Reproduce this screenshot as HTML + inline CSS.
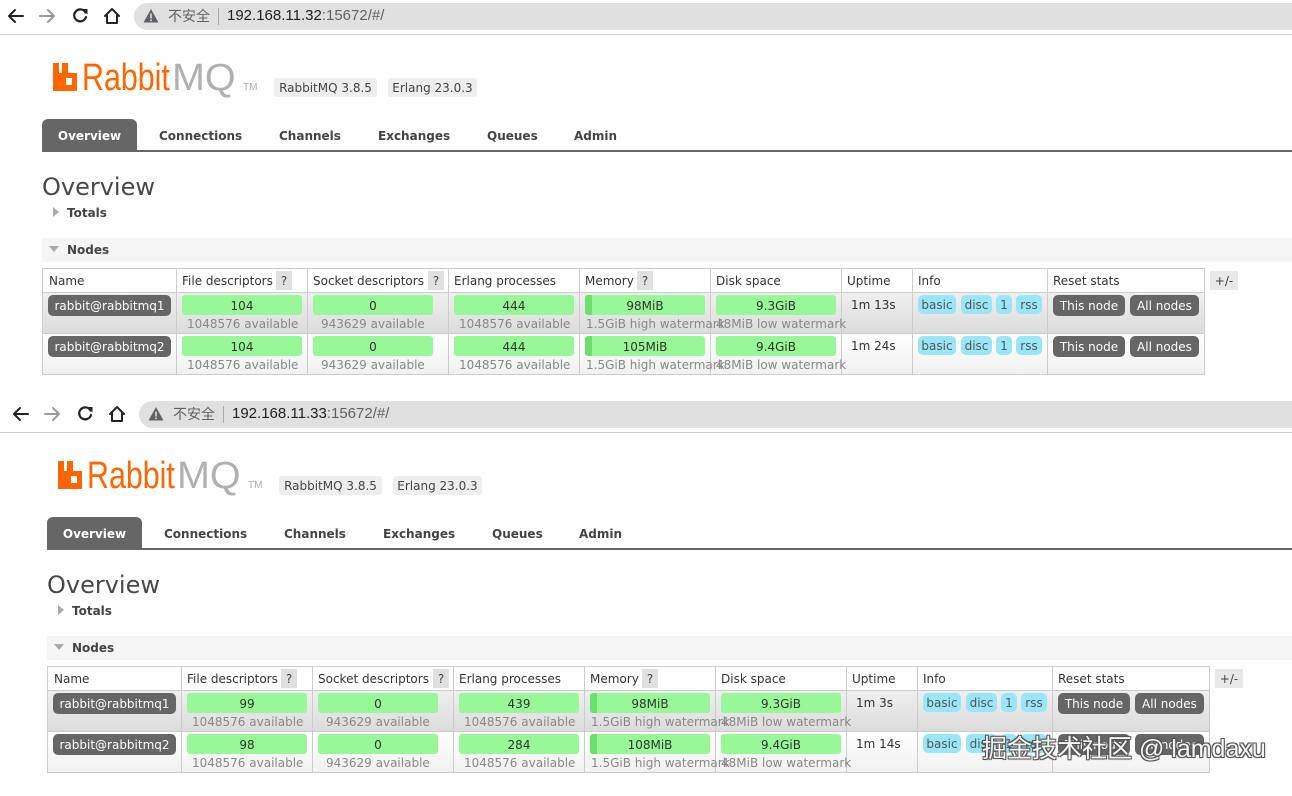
<!DOCTYPE html>
<html><head><meta charset="utf-8">
<style>
html,body{margin:0;padding:0;background:#fff;}
body{width:1292px;height:787px;overflow:hidden;position:relative;font-family:"DejaVu Sans",Verdana,sans-serif;font-size:12px;color:#333;}
.p{position:absolute;width:1292px;height:398px;overflow:visible;}
.a{position:absolute;white-space:nowrap;}
.url{position:absolute;left:134px;top:3px;width:1200px;height:27px;background:#e0e0e0;border-radius:14px;}
.hl{position:absolute;left:-5px;top:34px;width:1310px;height:1px;background:#cfcfcf;}
.cn{position:absolute;left:168px;top:6px;font-family:"Noto Sans CJK SC","WenQuanYi Zen Hei",sans-serif;font-size:14px;line-height:20px;color:#5f6368;}
.sep{position:absolute;left:218px;top:8px;width:1px;height:17px;background:#a8a8a8;}
.ad{position:absolute;left:227px;top:6px;font-family:"Liberation Sans",Arial,sans-serif;font-size:15px;line-height:20px;color:#202124;}
.ad span{color:#5f6368;}
.rb{position:absolute;left:82px;top:56px;font-family:"Liberation Sans",Arial,sans-serif;font-size:38px;line-height:44px;color:#f60;transform:scaleX(0.8);transform-origin:0 0;}
.mq{position:absolute;left:172px;top:56px;font-family:"Liberation Sans",Arial,sans-serif;font-size:38px;line-height:44px;color:#b0b0b0;transform:scaleX(1.04);transform-origin:0 0;}
.tm{position:absolute;left:243px;top:83px;font-family:"Liberation Sans",Arial,sans-serif;font-size:10px;line-height:10px;color:#aaa;}
.ver{position:absolute;top:78px;height:19px;line-height:20px;background:#eee;border-radius:3px;text-align:center;color:#444;}
.tab{position:absolute;left:42px;top:119px;width:95px;height:32px;line-height:34px;background:#666;border-radius:6px 6px 0 0;color:#fff;font-weight:bold;text-align:center;}
.tl{position:absolute;top:119px;line-height:34px;font-weight:bold;color:#444;}
.tline{position:absolute;left:42px;top:150px;width:1300px;height:2px;background:#666;}
.h1{position:absolute;left:42px;top:175px;font-size:24px;line-height:24px;color:#484848;}
.bold{font-weight:bold;color:#444;}
.band{position:absolute;left:42px;top:238px;width:1300px;height:24px;background:#f5f5f5;}
.tbl{position:absolute;left:42px;top:268px;width:1163px;height:107px;border:1px solid #ccc;box-sizing:border-box;}
.r1{position:absolute;left:43px;top:293px;width:1161px;height:40px;background:linear-gradient(#efefef,#dcdcdc);}
.r2{position:absolute;left:43px;top:334px;width:1161px;height:40px;background:linear-gradient(#fff,#f1f1f1);}
.hz{position:absolute;left:42px;width:1163px;height:1px;background:#ccc;}
.vl{position:absolute;top:268px;width:1px;height:106px;background:#ccc;}
.th{position:absolute;top:270px;line-height:23px;color:#333;}
.q{position:absolute;top:271px;width:16px;height:19px;line-height:21px;background:#e0e0e0;text-align:center;color:#444;}
.pill{position:absolute;left:48px;width:123px;height:21px;line-height:23px;background:#666;border-radius:5px;color:#fff;text-align:center;}
.bar{position:absolute;width:120px;height:20px;line-height:22px;background:#98f898;border-radius:3px;text-align:center;color:#333;overflow:hidden;}
.bar i{position:absolute;left:0;top:0;width:7px;height:20px;background:#6be06b;}
.bar b{position:relative;font-weight:normal;}
.sub{position:absolute;height:17px;line-height:19px;color:#888;}
.up{position:absolute;left:851px;line-height:21px;color:#333;}
.inf{position:absolute;height:19px;line-height:21px;background:#99e6f8;border-radius:5px;text-align:center;color:#555;}
.btn{position:absolute;height:21px;line-height:23px;background:#666;border-radius:5px;text-align:center;color:#fff;}
.pm{position:absolute;left:1210px;top:271px;width:28px;height:19px;line-height:21px;background:#e8e8e8;text-align:center;color:#444;}
.wm{position:absolute;left:982px;top:732px;font-family:"Liberation Sans","Noto Sans CJK SC",sans-serif;font-size:25px;line-height:34px;color:#f4f4f4;text-shadow:1px 1px 0 #555,-1px -1px 0 #555,1px -1px 0 #555,-1px 1px 0 #555,0 0 2px #333;white-space:nowrap;}
</style></head><body>

<!-- PANEL 1 -->
<div class="p" style="left:0;top:0;">
  <div class="url"></div>
  <div class="hl"></div>
  <svg class="a" style="left:0;top:0" width="135" height="32">
    <g fill="none" stroke-width="2" stroke-linecap="round" stroke-linejoin="round">
      <path d="M9 16 H23 M15 10 L9 16 L15 22" stroke="#222"/>
      <path d="M40 16 H54 M48 10 L54 16 L48 22" stroke="#9a9a9a"/>
      <path d="M85.5 12.5 A6 6 0 1 0 86 17" stroke="#222" stroke-width="2.2"/>
      <path d="M105 16 L112 9 L119 16 M107 15 V23 H117 V15" stroke="#222"/>
    </g>
    <path d="M82 9 L87.5 9 L87.5 14.5 Z" fill="#222"/>
  </svg>
  <svg class="a" style="left:143px;top:8px" width="16" height="16"><path d="M8 1 L15.5 14.5 H0.5 Z" fill="#5f6368"/><rect x="7.2" y="5.5" width="1.6" height="5" fill="#e0e0e0"/><rect x="7.2" y="11.5" width="1.6" height="1.6" fill="#e0e0e0"/></svg>
  <div class="cn">不安全</div>
  <div class="sep"></div>
  <div class="ad">192.168.11.32<span>:15672/#/</span></div>

  <svg class="a" style="left:53px;top:63px" width="25" height="28"><path d="M0 0 H6 V10 H9 V0 H15 V10 H24 V28 H0 Z M13 15 V22 H19 V15 Z" fill="#f60" fill-rule="evenodd"/></svg>
  <div class="rb">Rabbit</div>
  <div class="mq">MQ</div>
  <div class="tm">TM</div>
  <div class="ver" style="left:274px;width:103px;">RabbitMQ 3.8.5</div>
  <div class="ver" style="left:388px;width:89px;">Erlang 23.0.3</div>

  <div class="tab">Overview</div>
  <div class="tl" style="left:159px">Connections</div>
  <div class="tl" style="left:279px">Channels</div>
  <div class="tl" style="left:378px">Exchanges</div>
  <div class="tl" style="left:487px">Queues</div>
  <div class="tl" style="left:574px">Admin</div>
  <div class="tline"></div>

  <div class="h1">Overview</div>
  <svg class="a" style="left:52px;top:206px" width="8" height="12"><path d="M1 1 L7 6 L1 11 Z" fill="#aaa"/></svg>
  <div class="a bold" style="left:67px;top:205px;line-height:17px;">Totals</div>
  <div class="band"></div>
  <svg class="a" style="left:48px;top:245px" width="12" height="8"><path d="M1 1 H11 L6 7 Z" fill="#aaa"/></svg>
  <div class="a bold" style="left:67px;top:242px;line-height:17px;">Nodes</div>

  <div class="r1"></div><div class="r2"></div>
  <div class="tbl"></div>
  <div class="hz" style="top:292px"></div>
  <div class="hz" style="top:333px"></div>
  <div class="vl" style="left:176px"></div><div class="vl" style="left:307px"></div><div class="vl" style="left:448px"></div><div class="vl" style="left:579px"></div><div class="vl" style="left:710px"></div><div class="vl" style="left:841px"></div><div class="vl" style="left:912px"></div><div class="vl" style="left:1047px"></div>

  <div class="th" style="left:49px">Name</div>
  <div class="th" style="left:182px">File descriptors</div><div class="q" style="left:276px">?</div>
  <div class="th" style="left:313px">Socket descriptors</div><div class="q" style="left:428px">?</div>
  <div class="th" style="left:454px">Erlang processes</div>
  <div class="th" style="left:585px">Memory</div><div class="q" style="left:637px">?</div>
  <div class="th" style="left:716px">Disk space</div>
  <div class="th" style="left:847px">Uptime</div>
  <div class="th" style="left:918px">Info</div>
  <div class="th" style="left:1053px">Reset stats</div>
  <div class="pm">+/-</div>

  <!-- row 1 -->
  <div class="pill" style="top:295px">rabbit@rabbitmq1</div>
  <div class="bar" style="left:182px;top:295px">104</div>
  <div class="sub" style="left:187px;top:315px">1048576 available</div>
  <div class="bar" style="left:313px;top:295px">0</div>
  <div class="sub" style="left:321px;top:315px">943629 available</div>
  <div class="bar" style="left:454px;top:295px">444</div>
  <div class="sub" style="left:459px;top:315px">1048576 available</div>
  <div class="bar" style="left:585px;top:295px"><i></i><b>98MiB</b></div>
  <div class="sub" style="left:586px;top:315px">1.5GiB high watermark</div>
  <div class="bar" style="left:716px;top:295px">9.3GiB</div>
  <div class="sub" style="left:716px;top:315px">48MiB low watermark</div>
  <div class="up" style="top:295px">1m 13s</div>
  <div class="inf" style="left:918px;top:295px;width:38px">basic</div>
  <div class="inf" style="left:961px;top:295px;width:31px">disc</div>
  <div class="inf" style="left:996px;top:295px;width:16px">1</div>
  <div class="inf" style="left:1016px;top:295px;width:26px">rss</div>
  <div class="btn" style="left:1053px;top:295px;width:72px">This node</div>
  <div class="btn" style="left:1130px;top:295px;width:69px">All nodes</div>

  <!-- row 2 -->
  <div class="pill" style="top:336px">rabbit@rabbitmq2</div>
  <div class="bar" style="left:182px;top:336px">104</div>
  <div class="sub" style="left:187px;top:356px">1048576 available</div>
  <div class="bar" style="left:313px;top:336px">0</div>
  <div class="sub" style="left:321px;top:356px">943629 available</div>
  <div class="bar" style="left:454px;top:336px">444</div>
  <div class="sub" style="left:459px;top:356px">1048576 available</div>
  <div class="bar" style="left:585px;top:336px"><i></i><b>105MiB</b></div>
  <div class="sub" style="left:586px;top:356px">1.5GiB high watermark</div>
  <div class="bar" style="left:716px;top:336px">9.4GiB</div>
  <div class="sub" style="left:716px;top:356px">48MiB low watermark</div>
  <div class="up" style="top:336px">1m 24s</div>
  <div class="inf" style="left:918px;top:336px;width:38px">basic</div>
  <div class="inf" style="left:961px;top:336px;width:31px">disc</div>
  <div class="inf" style="left:996px;top:336px;width:16px">1</div>
  <div class="inf" style="left:1016px;top:336px;width:26px">rss</div>
  <div class="btn" style="left:1053px;top:336px;width:72px">This node</div>
  <div class="btn" style="left:1130px;top:336px;width:69px">All nodes</div>
</div>

<!-- PANEL 2 -->
<div class="p" style="left:5px;top:398px;">
  <div class="url"></div>
  <div class="hl"></div>
  <svg class="a" style="left:0;top:0" width="135" height="32">
    <g fill="none" stroke-width="2" stroke-linecap="round" stroke-linejoin="round">
      <path d="M9 16 H23 M15 10 L9 16 L15 22" stroke="#222"/>
      <path d="M40 16 H54 M48 10 L54 16 L48 22" stroke="#9a9a9a"/>
      <path d="M85.5 12.5 A6 6 0 1 0 86 17" stroke="#222" stroke-width="2.2"/>
      <path d="M105 16 L112 9 L119 16 M107 15 V23 H117 V15" stroke="#222"/>
    </g>
    <path d="M82 9 L87.5 9 L87.5 14.5 Z" fill="#222"/>
  </svg>
  <svg class="a" style="left:143px;top:8px" width="16" height="16"><path d="M8 1 L15.5 14.5 H0.5 Z" fill="#5f6368"/><rect x="7.2" y="5.5" width="1.6" height="5" fill="#e0e0e0"/><rect x="7.2" y="11.5" width="1.6" height="1.6" fill="#e0e0e0"/></svg>
  <div class="cn">不安全</div>
  <div class="sep"></div>
  <div class="ad">192.168.11.33<span>:15672/#/</span></div>

  <svg class="a" style="left:53px;top:63px" width="25" height="28"><path d="M0 0 H6 V10 H9 V0 H15 V10 H24 V28 H0 Z M13 15 V22 H19 V15 Z" fill="#f60" fill-rule="evenodd"/></svg>
  <div class="rb">Rabbit</div>
  <div class="mq">MQ</div>
  <div class="tm">TM</div>
  <div class="ver" style="left:274px;width:103px;">RabbitMQ 3.8.5</div>
  <div class="ver" style="left:388px;width:89px;">Erlang 23.0.3</div>

  <div class="tab">Overview</div>
  <div class="tl" style="left:159px">Connections</div>
  <div class="tl" style="left:279px">Channels</div>
  <div class="tl" style="left:378px">Exchanges</div>
  <div class="tl" style="left:487px">Queues</div>
  <div class="tl" style="left:574px">Admin</div>
  <div class="tline"></div>

  <div class="h1">Overview</div>
  <svg class="a" style="left:52px;top:206px" width="8" height="12"><path d="M1 1 L7 6 L1 11 Z" fill="#aaa"/></svg>
  <div class="a bold" style="left:67px;top:205px;line-height:17px;">Totals</div>
  <div class="band"></div>
  <svg class="a" style="left:48px;top:245px" width="12" height="8"><path d="M1 1 H11 L6 7 Z" fill="#aaa"/></svg>
  <div class="a bold" style="left:67px;top:242px;line-height:17px;">Nodes</div>

  <div class="r1"></div><div class="r2"></div>
  <div class="tbl"></div>
  <div class="hz" style="top:292px"></div>
  <div class="hz" style="top:333px"></div>
  <div class="vl" style="left:176px"></div><div class="vl" style="left:307px"></div><div class="vl" style="left:448px"></div><div class="vl" style="left:579px"></div><div class="vl" style="left:710px"></div><div class="vl" style="left:841px"></div><div class="vl" style="left:912px"></div><div class="vl" style="left:1047px"></div>

  <div class="th" style="left:49px">Name</div>
  <div class="th" style="left:182px">File descriptors</div><div class="q" style="left:276px">?</div>
  <div class="th" style="left:313px">Socket descriptors</div><div class="q" style="left:428px">?</div>
  <div class="th" style="left:454px">Erlang processes</div>
  <div class="th" style="left:585px">Memory</div><div class="q" style="left:637px">?</div>
  <div class="th" style="left:716px">Disk space</div>
  <div class="th" style="left:847px">Uptime</div>
  <div class="th" style="left:918px">Info</div>
  <div class="th" style="left:1053px">Reset stats</div>
  <div class="pm">+/-</div>

  <!-- row 1 -->
  <div class="pill" style="top:295px">rabbit@rabbitmq1</div>
  <div class="bar" style="left:182px;top:295px">99</div>
  <div class="sub" style="left:187px;top:315px">1048576 available</div>
  <div class="bar" style="left:313px;top:295px">0</div>
  <div class="sub" style="left:321px;top:315px">943629 available</div>
  <div class="bar" style="left:454px;top:295px">439</div>
  <div class="sub" style="left:459px;top:315px">1048576 available</div>
  <div class="bar" style="left:585px;top:295px"><i></i><b>98MiB</b></div>
  <div class="sub" style="left:586px;top:315px">1.5GiB high watermark</div>
  <div class="bar" style="left:716px;top:295px">9.3GiB</div>
  <div class="sub" style="left:716px;top:315px">48MiB low watermark</div>
  <div class="up" style="top:295px">1m 3s</div>
  <div class="inf" style="left:918px;top:295px;width:38px">basic</div>
  <div class="inf" style="left:961px;top:295px;width:31px">disc</div>
  <div class="inf" style="left:996px;top:295px;width:16px">1</div>
  <div class="inf" style="left:1016px;top:295px;width:26px">rss</div>
  <div class="btn" style="left:1053px;top:295px;width:72px">This node</div>
  <div class="btn" style="left:1130px;top:295px;width:69px">All nodes</div>

  <!-- row 2 -->
  <div class="pill" style="top:336px">rabbit@rabbitmq2</div>
  <div class="bar" style="left:182px;top:336px">98</div>
  <div class="sub" style="left:187px;top:356px">1048576 available</div>
  <div class="bar" style="left:313px;top:336px">0</div>
  <div class="sub" style="left:321px;top:356px">943629 available</div>
  <div class="bar" style="left:454px;top:336px">284</div>
  <div class="sub" style="left:459px;top:356px">1048576 available</div>
  <div class="bar" style="left:585px;top:336px"><i></i><b>108MiB</b></div>
  <div class="sub" style="left:586px;top:356px">1.5GiB high watermark</div>
  <div class="bar" style="left:716px;top:336px">9.4GiB</div>
  <div class="sub" style="left:716px;top:356px">48MiB low watermark</div>
  <div class="up" style="top:336px">1m 14s</div>
  <div class="inf" style="left:918px;top:336px;width:38px">basic</div>
  <div class="inf" style="left:961px;top:336px;width:31px">disc</div>
  <div class="inf" style="left:996px;top:336px;width:16px">1</div>
  <div class="inf" style="left:1016px;top:336px;width:26px">rss</div>
  <div class="btn" style="left:1053px;top:336px;width:72px">This node</div>
  <div class="btn" style="left:1130px;top:336px;width:69px">All nodes</div>
</div>

<div class="wm">掘金技术社区 @ lamdaxu</div>
</body></html>
